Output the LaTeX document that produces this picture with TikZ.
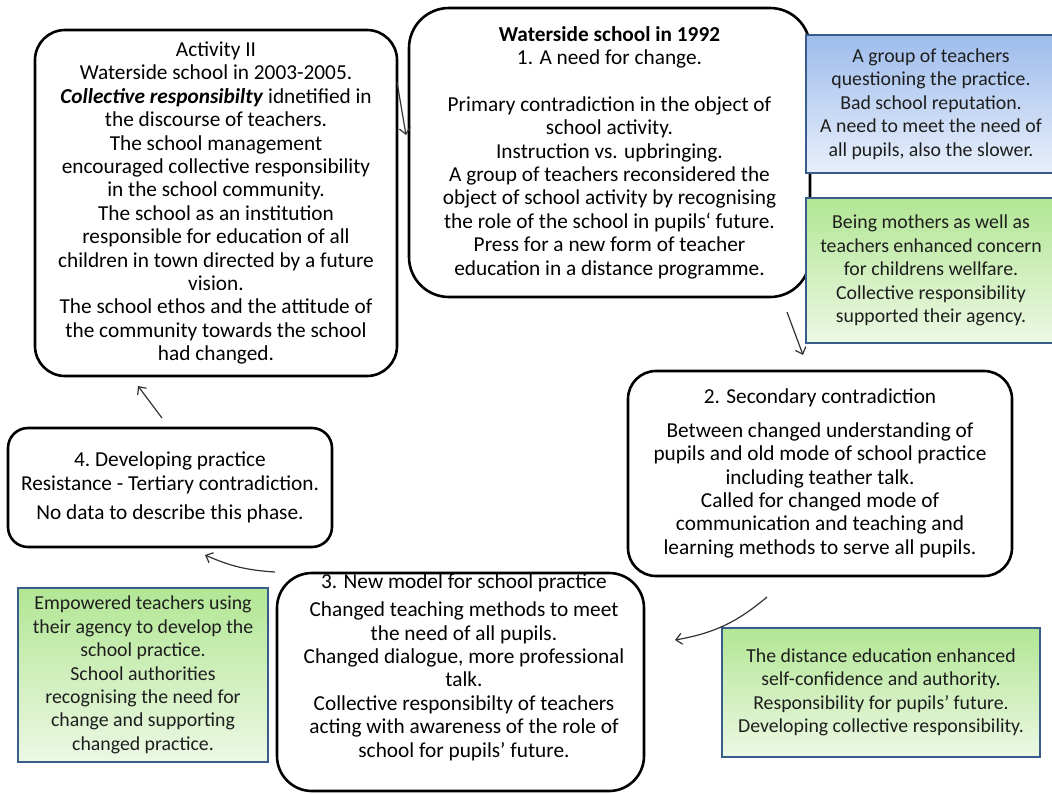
\documentclass[tikz,border=0pt]{standalone}
\usepackage{fontspec}
\setmainfont{Carlito}
\usetikzlibrary{arrows.meta}
\definecolor{noteframe}{RGB}{56,93,138}
\definecolor{bluetop}{RGB}{158,188,236}
\definecolor{bluebottom}{RGB}{232,239,251}
\definecolor{greentop}{RGB}{178,230,148}
\definecolor{greenbottom}{RGB}{236,248,228}
\definecolor{notetext}{RGB}{30,30,30}
\definecolor{arrowgray}{RGB}{50,50,50}
\tikzset{phase/.style={draw, line width=2.6pt, rounded corners=#1, align=center, inner sep=0pt},
  phase/.default=30pt,
  note/.style={draw=noteframe, line width=2.2pt, align=center, inner sep=0pt, text=notetext,
    font=\fontsize{19.8}{23.4}\selectfont},
  bluenote/.style={note, top color=bluetop, bottom color=bluebottom},
  greennote/.style={note, top color=greentop, bottom color=greenbottom},
  flow/.style={draw=arrowgray, line width=1.2pt, -{Straight Barb[length=6pt,width=11pt]}}}

\begin{document}
\begin{tikzpicture}[x=1pt, y=-1pt, font=\fontsize{21.3}{23.4}\selectfont]
  \useasboundingbox (0,0) rectangle (1052,793);

  % activity II
  \node [phase=30pt, minimum width=362pt, minimum height=346pt] (activity) at (216,203)
    {Activity II\\ Waterside school in 2003-2005.\\ \textbf{\textit{Collective responsibilty}} idnetified in\\
     the discourse of teachers.\\ The school management\\ encouraged collective responsibility\\
     in the school community.\\ The school as an institution\\ responsible for education of all\\
     children in town directed by a future\\ vision.\\ The school ethos and the attitude of\\
     the community towards the school\\ had changed.};

  % phase 1
  \node [phase=40pt, minimum width=401pt, minimum height=289pt] (need) at (609.5,152.5)
    {\textbf{Waterside school in 1992}\\ 1. A need for change.\\[23.4pt]
     Primary contradiction in the object of\\ school activity.\\ Instruction vs. upbringing.\\
     A group of teachers reconsidered the\\ object of school activity by recognising\\
     the role of the school in pupils‘ future.\\ Press for a new form of teacher\\
     education in a distance programme.};

  \node [bluenote, minimum width=250pt, minimum height=138pt] (reputation) at (931,104)
    {A group of teachers\\ questioning the practice.\\ Bad school reputation.\\
     A need to meet the need of\\ all pupils, also the slower.};
  \node [greennote, minimum width=250pt, minimum height=145pt] (mothers) at (931,270.5)
    {Being mothers as well as\\ teachers enhanced concern\\ for childrens wellfare.\\
     Collective responsibility\\ supported their agency.};

  % phase 2
  \node [phase=28pt, minimum width=384pt, minimum height=205pt] (secondary) at (820,473.5)
    {2. Secondary contradiction\\[10pt] Between changed understanding of\\
     pupils and old mode of school practice\\ including teather talk.\\ Called for changed mode of\\
     communication and teaching and\\ learning methods to serve all pupils.};

  % phase 4
  \node [phase=20pt, minimum width=324pt, minimum height=119pt] (developing) at (170,487.5)
    {4.\ Developing practice\\ Resistance - Tertiary contradiction.\\[6pt] No data to describe this phase.};

  % phase 3
  \node [phase=35pt, minimum width=367pt, minimum height=218pt] (model) at (460.5,682) {};
  \node [align=center, inner sep=0pt] (modeltext) at (464,667)
    {3. New model for school practice\\[5pt] Changed teaching methods to meet\\ the need of all pupils.\\
     Changed dialogue, more professional\\ talk.\\ Collective responsibilty of teachers\\
     acting with awareness of the role of\\ school for pupils’ future.};

  \node [greennote, minimum width=250pt, minimum height=174pt] (empowered) at (143,675)
    {Empowered teachers using\\ their agency to develop the\\ school practice.\\ School authorities\\
     recognising the need for\\ change and supporting\\ changed practice.};
  \node [greennote, minimum width=318pt, minimum height=129pt] (distance) at (881,692.5)
    {The distance education enhanced\\ self-confidence and authority.\\
     Responsibility for pupils’ future.\\ Developing collective responsibility.};

  % arrows
  \coordinate (a1s) at (397,82);   \coordinate (a1e) at (406,135);
  \coordinate (a2s) at (787,312);  \coordinate (a2e) at (803,355);
  \coordinate (a3s) at (767,597);  \coordinate (a3e) at (675,640);
  \coordinate (a4s) at (275,572);  \coordinate (a4e) at (205,555);
  \coordinate (a5s) at (162,418);  \coordinate (a5e) at (138,386);
  \draw [flow] (a1s) -- (a1e);
  \draw [flow] (a2s) -- (a2e);
  \draw [flow] (a3s) to [bend left=15] (a3e);
  \draw [flow] (a4s) to [bend left=10] (a4e);
  \draw [flow] (a5s) -- (a5e);
\end{tikzpicture}
\end{document}
